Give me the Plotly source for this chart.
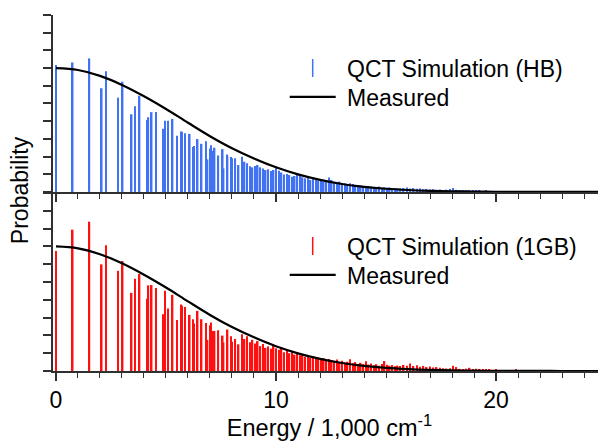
import plotly.graph_objects as go
from plotly.subplots import make_subplots

# ---- data (energies in 1,000 cm^-1, probability in arbitrary units) ----
energy_low = [0.00, 0.76, 1.52, 2.08, 2.27, 2.83, 3.03, 3.44, 3.59, 3.80, 4.14, 4.20,
              4.35, 4.55, 4.89, 4.95, 5.09, 5.30, 5.51, 5.68, 5.73, 5.86, 6.08, 6.23,
              6.27, 6.44, 6.62, 6.82, 6.89, 7.00, 7.05, 7.17, 7.21, 7.38, 7.58, 7.62,
              7.77, 7.80, 7.95, 8.00, 8.15, 8.30]
energy_dense = [8.45, 8.57, 8.69, 8.81, 8.93, 9.05, 9.17, 9.29, 9.41, 9.53, 9.65, 9.77,
                9.89, 10.01, 10.13, 10.25, 10.37, 10.49, 10.61, 10.73, 10.85, 10.97, 11.09,
                11.21, 11.33, 11.45, 11.57, 11.69, 11.81, 11.93, 12.05, 12.17, 12.29, 12.41,
                12.53, 12.65, 12.77, 12.89, 13.01, 13.13, 13.25, 13.37, 13.49, 13.61, 13.73,
                13.85, 13.97, 14.09, 14.21, 14.33, 14.45, 14.57, 14.69, 14.81, 14.93, 15.05,
                15.17, 15.29, 15.41, 15.53, 15.65]
energy_tail = [15.80, 15.95, 16.10, 16.25, 16.40, 16.55, 16.70, 16.85, 17.00, 17.15, 17.30,
               17.45, 17.60, 17.75, 17.90, 18.05, 18.20, 18.35, 18.50, 18.65, 18.80, 18.95,
               19.10, 19.25, 19.40, 19.55, 19.70, 19.85, 20.00, 20.15, 20.30, 20.45, 20.60,
               20.75, 20.90]

hb_low = [7.17, 7.32, 7.55, 5.86, 6.82, 5.33, 6.23, 4.39, 4.84, 5.44, 4.06, 4.22, 4.51, 4.52,
          3.57, 4.02, 4.02, 4.13, 3.17, 3.42, 3.40, 3.32, 3.28, 2.54, 2.59, 2.99, 2.72, 2.87,
          1.84, 2.45, 2.64, 2.33, 2.50, 2.06, 2.42, 1.33, 2.12, 2.04, 1.98, 1.90, 1.90, 1.52]
hb_dense = [1.99, 1.71, 1.62, 1.45, 1.39, 1.46, 1.52, 1.39, 1.33, 1.24, 1.28, 1.18, 1.24,
            1.39, 1.20, 1.10, 0.99, 1.01, 0.96, 0.86, 0.90, 0.96, 1.01, 0.83, 0.77, 0.80,
            0.68, 0.81, 0.68, 0.64, 0.71, 0.58, 0.62, 0.81, 0.68, 0.53, 0.49, 0.58, 0.45,
            0.48, 0.39, 0.49, 0.45, 0.34, 0.39, 0.36, 0.34, 0.30, 0.34, 0.30, 0.28, 0.26,
            0.30, 0.24, 0.26, 0.23, 0.25, 0.21, 0.22, 0.20, 0.21]
hb_tail = [0.22, 0.25, 0.20, 0.22, 0.18, 0.20, 0.15, 0.17, 0.14, 0.16, 0.12, 0.14, 0.11,
           0.13, 0.16, 0.22, 0.12, 0.10, 0.08, 0.09, 0.07, 0.08, 0.06, 0.09, 0.05, 0.06,
           0.05, 0.04, 0.05, 0.03, 0.04, 0.03, 0.02, 0.03, 0.02]

gb_low = [6.74, 7.94, 8.39, 5.99, 7.06, 5.63, 6.18, 4.39, 5.18, 5.45, 4.06, 4.81, 4.83, 4.66,
          3.19, 4.51, 3.51, 4.28, 2.87, 3.74, 3.66, 3.59, 3.15, 2.91, 2.67, 3.38, 2.91, 2.70,
          1.75, 2.57, 2.72, 2.25, 2.25, 2.29, 1.99, 1.60, 2.20, 2.33, 1.95, 1.65, 1.80, 1.50]
gb_dense = [2.07, 1.80, 1.95, 1.62, 1.75, 1.55, 1.68, 1.40, 1.52, 1.30, 1.38, 1.25, 1.45,
            1.28, 1.20, 1.35, 1.05, 1.12, 1.00, 1.08, 0.92, 1.02, 0.88, 0.95, 0.80, 0.86,
            0.74, 0.82, 0.70, 0.76, 0.66, 0.72, 0.60, 0.68, 0.62, 0.55, 0.64, 0.50, 0.58,
            0.46, 0.52, 0.66, 0.44, 0.50, 0.40, 0.46, 0.38, 0.55, 0.36, 0.42, 0.32, 0.38,
            0.30, 0.40, 0.56, 0.35, 0.30, 0.33, 0.26, 0.30, 0.28]
gb_tail = [0.34, 0.30, 0.42, 0.28, 0.32, 0.24, 0.28, 0.22, 0.25, 0.20, 0.22, 0.18, 0.16,
           0.14, 0.16, 0.30, 0.22, 0.12, 0.10, 0.13, 0.18, 0.10, 0.12, 0.08, 0.07, 0.06,
           0.08, 0.05, 0.06, 0.04, 0.05, 0.04, 0.03, 0.04, 0.06]

measured_energy = [0, 1, 2, 3, 4, 5, 6, 7, 8, 9, 10, 11, 12, 13, 14, 15, 16, 17, 18, 19,
                   20, 21, 22, 23, 24, 25]
measured_prob = [7.00, 6.89, 6.56, 6.05, 5.41, 4.69, 3.91, 3.15, 2.47, 1.89, 1.39, 0.99,
                 0.68, 0.45, 0.29, 0.18, 0.11, 0.065, 0.037, 0.020, 0.010, 0.005, 0.002,
                 0.001, 0.0, 0.0]

x_tick_vals = [0, 10, 20]
x_tick_text = ["0", "10", "20"]

BLUE = "#4272f4"
RED = "#ff1010"
FONT = "Liberation Sans, Arial, sans-serif"
AX = "#303030"
NB = "\u00a0"

energies = energy_low + energy_dense + energy_tail
hb = hb_low + hb_dense + hb_tail
gb = gb_low + gb_dense + gb_tail

fig = make_subplots(rows=2, cols=1, shared_xaxes=False, vertical_spacing=0.0)

# top panel
fig.add_trace(go.Bar(x=energies, y=hb, width=0.07, marker=dict(color=BLUE, line=dict(width=0)),
                     showlegend=False), row=1, col=1)
fig.add_trace(go.Scatter(x=[None], y=[None], mode="markers", name=NB + "QCT Simulation (HB)",
                         marker=dict(symbol="line-ns", size=13, color=BLUE,
                                     line=dict(color=BLUE, width=1.5)),
                         legend="legend"), row=1, col=1)
fig.add_trace(go.Scatter(x=measured_energy, y=measured_prob, mode="lines", name=NB + "Measured",
                         line=dict(color="black", width=2.2, shape="spline"),
                         legend="legend2"), row=1, col=1)

# bottom panel
fig.add_trace(go.Bar(x=energies, y=gb, width=0.07, marker=dict(color=RED, line=dict(width=0)),
                     showlegend=False), row=2, col=1)
fig.add_trace(go.Scatter(x=[None], y=[None], mode="markers", name=NB + "QCT Simulation (1GB)",
                         marker=dict(symbol="line-ns", size=13, color=RED,
                                     line=dict(color=RED, width=1.5)),
                         legend="legend3"), row=2, col=1)
fig.add_trace(go.Scatter(x=measured_energy, y=measured_prob, mode="lines", name=NB + "Measured",
                         line=dict(color="black", width=2.2, shape="spline"),
                         legend="legend4"), row=2, col=1)

xcommon = dict(range=[-0.136, 25], showline=True, linecolor=AX, linewidth=1.5,
               ticks="outside", tickcolor=AX, tickwidth=1.5, ticklen=8,
               tickmode="array", tickvals=x_tick_vals, ticktext=x_tick_text,
               minor=dict(ticks="outside", dtick=1, tick0=0, ticklen=5, tickcolor=AX, tickwidth=1.2),
               showgrid=False, zeroline=False, mirror=False, automargin=False)
ycommon = dict(range=[0, 10], showline=True, linecolor=AX, linewidth=1.5,
               ticks="outside", tickcolor=AX, tickwidth=1.5, ticklen=8, dtick=1,
               showticklabels=False, showgrid=False, zeroline=False, automargin=False)

fig.update_xaxes(**xcommon)
fig.update_yaxes(**ycommon)
fig.update_xaxes(showticklabels=False, row=1, col=1)
fig.update_xaxes(showticklabels=True, tickfont=dict(size=23, color="black", family=FONT),
                 title=dict(text="Energy / 1,000 cm<sup>-1</sup>",
                            font=dict(size=23.5, color="black", family=FONT), standoff=2),
                 row=2, col=1)

leg = dict(x=0.419, xanchor="left", yanchor="middle", bgcolor="rgba(0,0,0,0)",
           font=dict(size=23, family=FONT, color="black"), itemwidth=46, borderwidth=0)

fig.update_layout(
    width=598, height=433,
    margin=dict(l=45, r=0, t=7, b=70, autoexpand=False),
    paper_bgcolor="white", plot_bgcolor="white",
    barmode="overlay",
    font=dict(family=FONT, size=22, color="black"),
    xaxis=dict(domain=[0, 1]),
    yaxis=dict(domain=[0.503, 1.0]),
    yaxis2=dict(domain=[0.0, 0.5]),
    legend=dict(leg, y=0.851),
    legend2=dict(leg, y=0.770),
    legend3=dict(leg, y=0.351),
    legend4=dict(leg, y=0.270),
    annotations=[dict(text="Probability", textangle=-90, x=-0.0597, y=0.508,
                      xref="paper", yref="paper", xanchor="center", yanchor="middle",
                      showarrow=False,
                      font=dict(size=23, family=FONT, color="black"))],
)

fig.write_html("out.html")
